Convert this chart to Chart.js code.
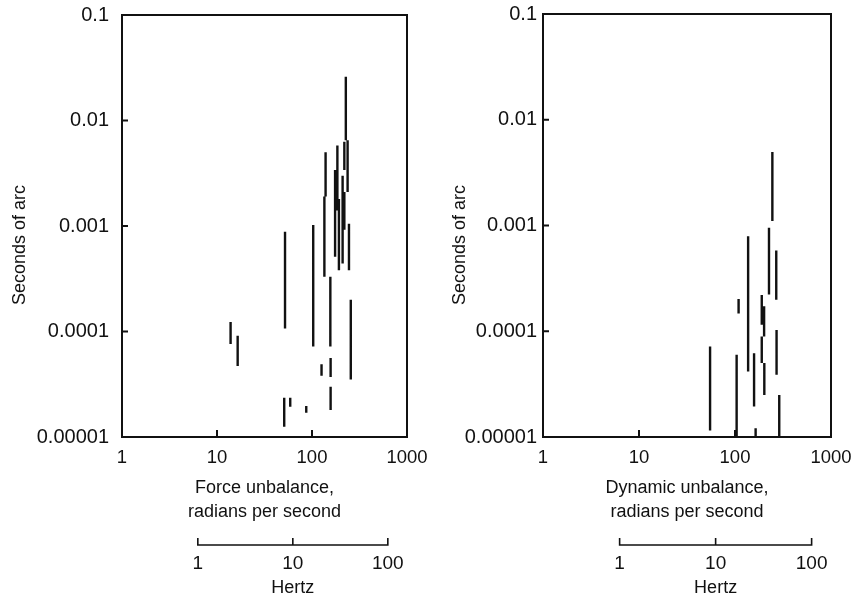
<!DOCTYPE html>
<html>
<head>
<meta charset="utf-8">
<script src="https://cdn.jsdelivr.net/npm/chart.js@4.4.1/dist/chart.umd.min.js"></script>
<style>
  html, body { margin: 0; padding: 0; background: #fff; }
  #wrap { position: relative; width: 851px; height: 599px; }
  canvas { position: absolute; top: 0; }
  #leftChart  { left: 0; }
  #rightChart { left: 430px; }
</style>
</head>
<body>
<div id="wrap">
  <canvas id="leftChart" width="430" height="599"></canvas>
  <canvas id="rightChart" width="421" height="599"></canvas>
</div>
<script>
// Axis ticks (radians per second on x, seconds of arc on y)
const X_TICKS        = [1, 10, 100, 1000];
const X_TICK_LABELS  = ['1', '10', '100', '1000'];
const Y_TICKS        = [0.00001, 0.0001, 0.001, 0.01, 0.1];
const Y_TICK_LABELS  = ['0.00001', '0.0001', '0.001', '0.01', '0.1'];
const HZ_TICKS       = [1, 10, 100];
const HZ_TICK_LABELS = ['1', '10', '100'];
const RAD_PER_HZ     = 2 * Math.PI;

// Force unbalance: each bar is one frequency with a high..low amplitude range
const forceX    = [227, 237, 219, 139, 135, 185, 175, 192, 210, 219, 245,
                   52, 103, 156, 256, 126, 157, 157, 51, 59, 87, 13.9, 16.5];
const forceHigh = [0.026, 0.0065, 0.0063, 0.0050, 0.0019, 0.0058, 0.0034, 0.0018, 0.0030, 0.0021, 0.00105,
                   0.00088, 0.00102, 0.00033, 0.0002, 0.000049, 0.000056, 0.00003, 0.0000236, 0.0000236, 0.0000197, 0.000123, 0.000091];
const forceLow  = [0.0065, 0.0021, 0.0034, 0.0019, 0.00033, 0.0014, 0.00051, 0.00038, 0.00044, 0.00092, 0.00038,
                   0.000107, 0.000072, 0.000072, 0.000035, 0.000038, 0.000037, 0.000018, 0.0000125, 0.0000194, 0.000017, 0.000076, 0.000047];

// Dynamic unbalance
const dynX    = [245, 226, 269, 137, 109, 190, 201, 190, 202, 271, 289, 158, 104, 55, 164];
const dynHigh = [0.00495, 0.00095, 0.00058, 0.00079, 0.000202, 0.00022, 0.000172, 0.0000893, 0.00005,
                 0.000103, 0.000025, 0.000062, 0.00006, 0.0000718, 0.0000121];
const dynLow  = [0.0011, 0.000222, 0.000199, 0.0000416, 0.000147, 0.000115, 0.0000893, 0.00005, 0.000025,
                 0.0000387, 0.00001, 0.0000194, 0.00001, 0.0000115, 0.00001];

const INK  = '#111';
const FONT = '"Liberation Sans", Arial, sans-serif';

// vertical segments separated by null points so the line breaks between them
function segmentPoints(xs, highs, lows) {
  const pts = [];
  xs.forEach((x, i) => {
    pts.push({ x, y: highs[i] }, { x, y: lows[i] }, { x, y: null });
  });
  return pts;
}

// frame, inward ticks, rotated y title and the Hertz ruler under the x axis
const decorPlugin = {
  id: 'decor',
  afterDraw(chart, args, opts) {
    const { ctx, chartArea: a, scales: { x, y } } = chart;
    ctx.save();
    ctx.strokeStyle = INK;
    ctx.fillStyle = INK;
    ctx.lineWidth = 2;
    ctx.strokeRect(a.left, a.top, a.right - a.left, a.bottom - a.top);

    ctx.beginPath();
    Y_TICKS.forEach(v => {
      const py = y.getPixelForValue(v);
      ctx.moveTo(a.left, py);
      ctx.lineTo(a.left + 6, py);
    });
    X_TICKS.forEach(v => {
      const px = x.getPixelForValue(v);
      ctx.moveTo(px, a.bottom);
      ctx.lineTo(px, a.bottom - 7);
    });
    ctx.stroke();

    // Hertz ruler, placed with the radians-per-second scale
    const ry = opts.rulerY;
    const x0 = x.getPixelForValue(HZ_TICKS[0] * RAD_PER_HZ);
    const x1 = x.getPixelForValue(HZ_TICKS[HZ_TICKS.length - 1] * RAD_PER_HZ);
    ctx.lineWidth = 1.6;
    ctx.beginPath();
    ctx.moveTo(x0, ry);
    ctx.lineTo(x1, ry);
    HZ_TICKS.forEach(v => {
      const px = x.getPixelForValue(v * RAD_PER_HZ);
      ctx.moveTo(px, ry + 0.8);
      ctx.lineTo(px, ry - 7);
    });
    ctx.stroke();

    ctx.font = '19px ' + FONT;
    ctx.textAlign = 'center';
    ctx.textBaseline = 'middle';
    HZ_TICKS.forEach((v, i) => {
      ctx.fillText(HZ_TICK_LABELS[i], x.getPixelForValue(v * RAD_PER_HZ), ry + 19);
    });
    ctx.font = '18px ' + FONT;
    ctx.fillText('Hertz', x.getPixelForValue(10 * RAD_PER_HZ), ry + 43);

    ctx.translate(opts.titleX, opts.titleY);
    ctx.rotate(-Math.PI / 2);
    ctx.fillText('Seconds of arc', 0, 0);
    ctx.restore();
  }
};

function makeChart(id, xs, highs, lows, xTitle, cfg) {
  return new Chart(document.getElementById(id), {
    type: 'scatter',
    data: {
      datasets: [{
        data: segmentPoints(xs, highs, lows),
        showLine: true,
        spanGaps: false,
        borderColor: INK,
        borderWidth: 2.4,
        borderCapStyle: 'butt',
        pointRadius: 0,
        pointHoverRadius: 0
      }]
    },
    options: {
      responsive: false,
      animation: false,
      layout: { padding: { left: 0, right: cfg.padRight, top: cfg.padTop, bottom: 0 } },
      plugins: {
        legend: { display: false },
        tooltip: { enabled: false },
        decor: { rulerY: 545, titleX: cfg.titleX, titleY: 245 }
      },
      scales: {
        x: {
          type: 'logarithmic',
          min: 1,
          max: 1000,
          afterBuildTicks: s => { s.ticks = X_TICKS.map(v => ({ value: v })); },
          afterFit: s => { s.height = 162; s.paddingLeft = 0; s.paddingRight = 0; },
          grid: { display: false, drawTicks: false },
          border: { display: false },
          ticks: {
            color: INK,
            font: { family: FONT, size: 18.5 },
            padding: 10,
            maxRotation: 0,
            autoSkip: false,
            callback: v => X_TICK_LABELS[X_TICKS.indexOf(v)]
          },
          title: {
            display: true,
            text: xTitle,
            color: INK,
            font: { family: FONT, size: 18, lineHeight: 1.333 },
            padding: { top: 0, bottom: 75 }
          }
        },
        y: {
          type: 'logarithmic',
          min: 0.00001,
          max: 0.1,
          afterBuildTicks: s => { s.ticks = Y_TICKS.map(v => ({ value: v })); },
          afterFit: s => { s.width = cfg.yWidth; s.paddingTop = 0; s.paddingBottom = 0; },
          grid: { display: false, drawTicks: false },
          border: { display: false },
          ticks: {
            color: INK,
            font: { family: FONT, size: 20 },
            padding: cfg.yPad,
            autoSkip: false,
            callback: v => Y_TICK_LABELS[Y_TICKS.indexOf(v)]
          }
        }
      }
    },
    plugins: [decorPlugin]
  });
}

makeChart('leftChart', forceX, forceHigh, forceLow,
  ['Force unbalance,', 'radians per second'],
  { padRight: 23, padTop: 15, yWidth: 122, yPad: 13, titleX: 20 });

makeChart('rightChart', dynX, dynHigh, dynLow,
  ['Dynamic unbalance,', 'radians per second'],
  { padRight: 20, padTop: 14, yWidth: 113, yPad: 6, titleX: 30 });
</script>
</body>
</html>
